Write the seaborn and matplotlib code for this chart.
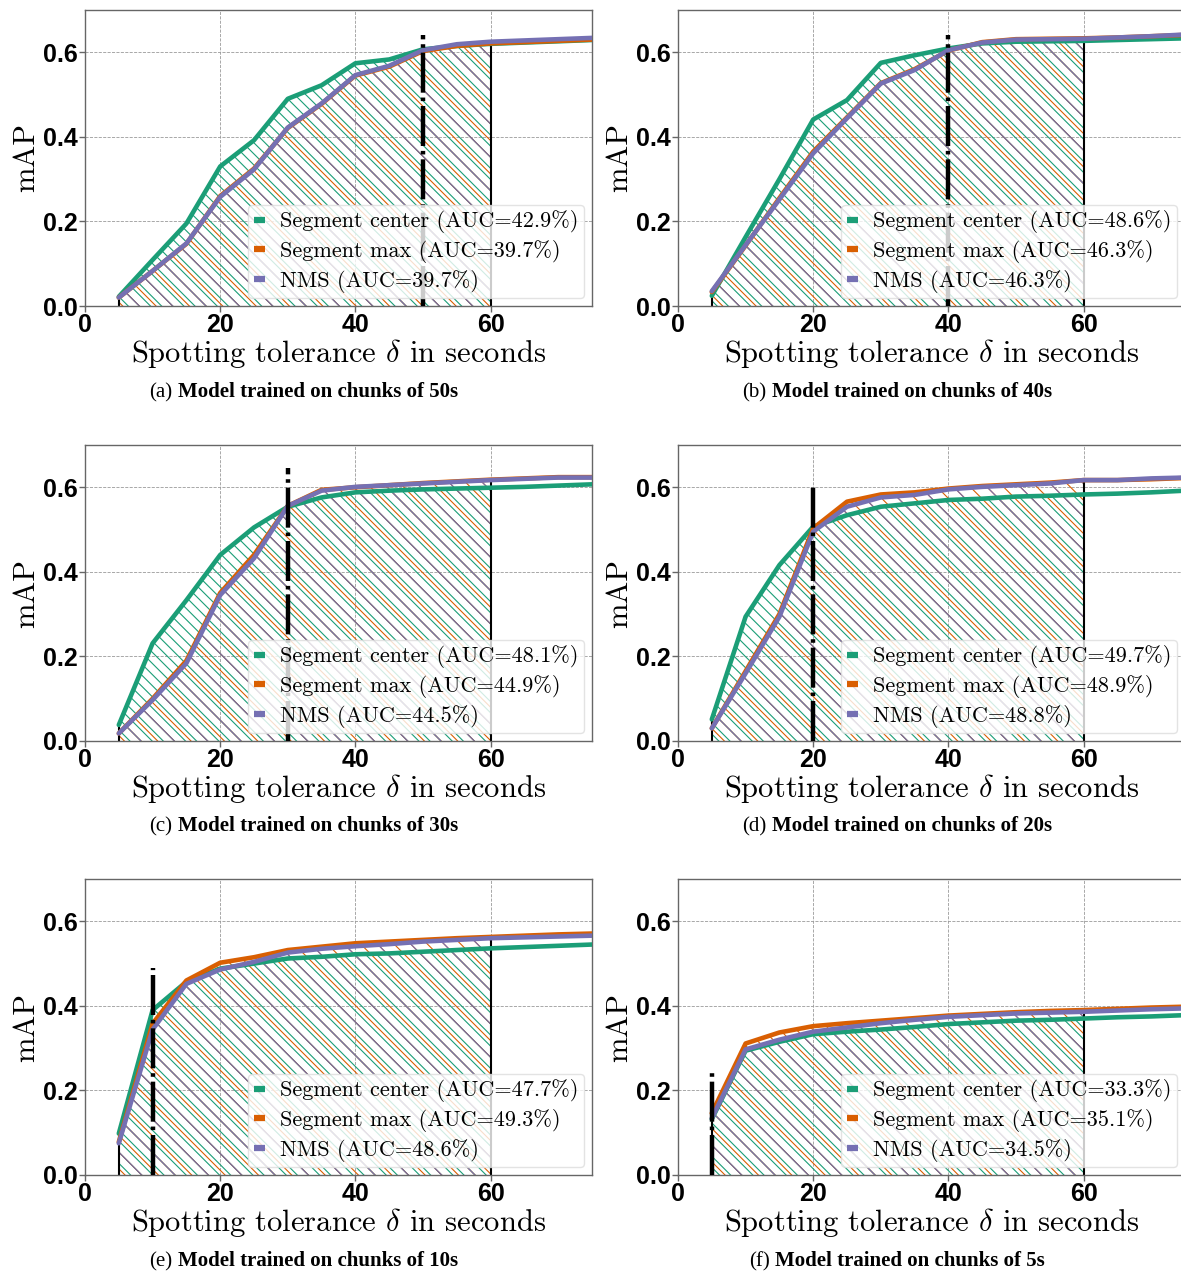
import matplotlib
matplotlib.use("Agg")
import matplotlib.pyplot as plt
import pandas as pd
import seaborn as sns
from matplotlib.lines import Line2D
from matplotlib.offsetbox import TextArea, HPacker, AnnotationBbox

# tolerance values (seconds) shared by every curve
tolerances = [5, 10, 15, 20, 25, 30, 35, 40, 45, 50, 55, 60, 65, 70, 75]
methods = ["Segment center", "Segment max", "NMS"]
chunk_sizes = [50, 40, 30, 20, 10, 5]
panel_letters = ["a", "b", "c", "d", "e", "f"]

# (a) chunks of 50s
center_a = [0.022, 0.109, 0.195, 0.330, 0.392, 0.490, 0.522, 0.574, 0.583, 0.607, 0.615, 0.620, 0.623, 0.626, 0.629]
max_a = [0.020, 0.083, 0.147, 0.260, 0.325, 0.421, 0.478, 0.545, 0.566, 0.603, 0.615, 0.621, 0.624, 0.627, 0.630]
nms_a = [0.020, 0.083, 0.148, 0.258, 0.323, 0.422, 0.479, 0.546, 0.568, 0.605, 0.619, 0.625, 0.628, 0.631, 0.634]
auc_a = [42.9, 39.7, 39.7]

# (b) chunks of 40s
center_b = [0.024, 0.163, 0.300, 0.441, 0.487, 0.575, 0.593, 0.609, 0.621, 0.625, 0.626, 0.627, 0.629, 0.631, 0.633]
max_b = [0.033, 0.143, 0.255, 0.365, 0.446, 0.527, 0.560, 0.604, 0.624, 0.631, 0.632, 0.633, 0.635, 0.638, 0.641]
nms_b = [0.035, 0.144, 0.252, 0.361, 0.444, 0.526, 0.558, 0.605, 0.623, 0.630, 0.631, 0.632, 0.635, 0.638, 0.642]
auc_b = [48.6, 46.3, 46.3]

# (c) chunks of 30s
center_c = [0.038, 0.231, 0.333, 0.440, 0.505, 0.554, 0.576, 0.588, 0.592, 0.595, 0.597, 0.599, 0.601, 0.604, 0.607]
max_c = [0.018, 0.100, 0.190, 0.350, 0.440, 0.556, 0.594, 0.600, 0.605, 0.610, 0.614, 0.618, 0.621, 0.624, 0.624]
nms_c = [0.018, 0.097, 0.184, 0.345, 0.432, 0.556, 0.592, 0.601, 0.605, 0.609, 0.613, 0.617, 0.620, 0.623, 0.623]
auc_c = [48.1, 44.9, 44.5]

# (d) chunks of 20s
center_d = [0.051, 0.294, 0.416, 0.507, 0.534, 0.554, 0.562, 0.570, 0.573, 0.578, 0.580, 0.583, 0.585, 0.588, 0.592]
max_d = [0.030, 0.165, 0.300, 0.503, 0.566, 0.583, 0.588, 0.597, 0.603, 0.607, 0.611, 0.617, 0.617, 0.619, 0.622]
nms_d = [0.030, 0.160, 0.294, 0.495, 0.554, 0.576, 0.582, 0.595, 0.601, 0.605, 0.609, 0.617, 0.617, 0.621, 0.623]
auc_d = [49.7, 48.9, 48.8]

# (e) chunks of 10s
center_e = [0.098, 0.390, 0.457, 0.488, 0.500, 0.512, 0.516, 0.522, 0.524, 0.528, 0.532, 0.536, 0.539, 0.542, 0.545]
max_e = [0.078, 0.358, 0.460, 0.502, 0.515, 0.532, 0.540, 0.548, 0.552, 0.556, 0.560, 0.563, 0.566, 0.569, 0.571]
nms_e = [0.075, 0.344, 0.452, 0.486, 0.504, 0.526, 0.535, 0.541, 0.546, 0.552, 0.556, 0.560, 0.562, 0.564, 0.566]
auc_e = [47.7, 49.3, 48.6]

# (f) chunks of 5s
center_f = [0.132, 0.294, 0.315, 0.333, 0.339, 0.344, 0.350, 0.357, 0.361, 0.365, 0.367, 0.370, 0.373, 0.375, 0.378]
max_f = [0.146, 0.311, 0.337, 0.352, 0.359, 0.365, 0.371, 0.377, 0.381, 0.385, 0.388, 0.390, 0.393, 0.396, 0.398]
nms_f = [0.134, 0.297, 0.320, 0.339, 0.349, 0.359, 0.367, 0.374, 0.378, 0.382, 0.384, 0.386, 0.389, 0.392, 0.394]
auc_f = [33.3, 35.1, 34.5]

# height of the dash-dot marker at the training chunk size
chunk_line_top = [0.64, 0.64, 0.645, 0.61, 0.49, 0.25]

curves = [
    (center_a, max_a, nms_a, auc_a),
    (center_b, max_b, nms_b, auc_b),
    (center_c, max_c, nms_c, auc_c),
    (center_d, max_d, nms_d, auc_d),
    (center_e, max_e, nms_e, auc_e),
    (center_f, max_f, nms_f, auc_f),
]

sns.set_style("whitegrid")
plt.rcParams["font.family"] = ["Liberation Sans", "DejaVu Sans"]
plt.rcParams["mathtext.fontset"] = "cm"
plt.rcParams["hatch.linewidth"] = 0.8
plt.rcParams["text.color"] = "black"
plt.rcParams["axes.labelcolor"] = "black"

palette = sns.color_palette("Dark2", 3)
hatches = ["\\\\\\", "\\\\", "\\"]

W, H = 1181, 1272
fig = plt.figure(figsize=(W / 100, H / 100), dpi=100)

col_left = [85, 678]
row_top = [10, 445, 879]
ax_w, ax_h = 507, 296
caption_x = [304, 897]
caption_y = [392, 826, 1261]

for i, (center, seg_max, nms, auc) in enumerate(curves):
    r, c = divmod(i, 2)
    ax = fig.add_axes([col_left[c] / W, 1 - (row_top[r] + ax_h) / H, ax_w / W, ax_h / H])

    labels = [f"{m} (AUC={a}%)" for m, a in zip(methods, auc)]
    df = pd.DataFrame({
        "tolerance": tolerances * 3,
        "mAP": center + seg_max + nms,
        "label": [lbl for lbl in labels for _ in tolerances],
    })

    # hatched area under each curve up to 60s
    for lbl, color, hatch in zip(labels, palette, hatches):
        sub = df[(df["label"] == lbl) & (df["tolerance"] <= 60)]
        ax.fill_between(sub["tolerance"], sub["mAP"], facecolor="none", edgecolor=color,
                        linewidth=0, hatch=hatch, zorder=1)

    first = df[df["tolerance"] == tolerances[0]]["mAP"].max()
    at60 = df[df["tolerance"] == 60]["mAP"].max()
    ax.vlines([tolerances[0], 60], 0, [first, at60], colors="black", linewidth=1.5, zorder=2)

    sns.lineplot(data=df, x="tolerance", y="mAP", hue="label", hue_order=labels,
                 palette=palette, linewidth=3.3, legend=False, errorbar=None, ax=ax, zorder=3)

    ax.vlines(chunk_sizes[i], 0, chunk_line_top[i], colors="black", linewidth=3.2,
              linestyles=(0, (9, 1.1, 0.8, 1.1)), zorder=4)

    ax.set_xlim(0, 75)
    ax.set_ylim(0, 0.7)
    ax.set_xticks([0, 20, 40, 60])
    ax.set_yticks([0.0, 0.2, 0.4, 0.6])
    ax.grid(True, linestyle="--", linewidth=0.6, color="#9a9a9a")
    for sp in ax.spines.values():
        sp.set_color("#666666")
        sp.set_linewidth(1.0)
    ax.tick_params(axis="both", which="major", labelsize=18, length=4, width=1,
                   color="#666666", labelcolor="black", pad=1, bottom=True, left=True)
    for t in ax.get_xticklabels() + ax.get_yticklabels():
        t.set_fontweight("bold")

    ax.set_xlabel(r"Spotting tolerance $\delta$ in seconds", fontfamily="cmr10",
                  fontsize=22, labelpad=0)
    ax.set_ylabel("mAP", fontfamily="cmr10", fontsize=22, labelpad=2)

    handles = [Line2D([], [], color=col, linewidth=4.5, solid_capstyle="butt") for col in palette]
    leg = ax.legend(handles, labels, loc="lower right", prop={"family": "cmr10", "size": 16},
                    handlelength=0.5, handletextpad=0.7, framealpha=0.8, edgecolor="#dddddd",
                    fancybox=True, borderaxespad=0.35, labelspacing=0.3, borderpad=0.25)
    leg.set_zorder(10)

    cap = HPacker(children=[
        TextArea(f"({panel_letters[i]})", textprops=dict(family="Liberation Serif", size=15)),
        TextArea(f"Model trained on chunks of {chunk_sizes[i]}s",
                 textprops=dict(family="Liberation Serif", size=15, weight="bold")),
    ], align="baseline", pad=0, sep=4)
    fig.add_artist(AnnotationBbox(cap, (caption_x[c] / W, 1 - caption_y[r] / H),
                                  xycoords="figure fraction", frameon=False,
                                  box_alignment=(0.5, 0.5)))

fig.savefig("out.png", dpi=100)
